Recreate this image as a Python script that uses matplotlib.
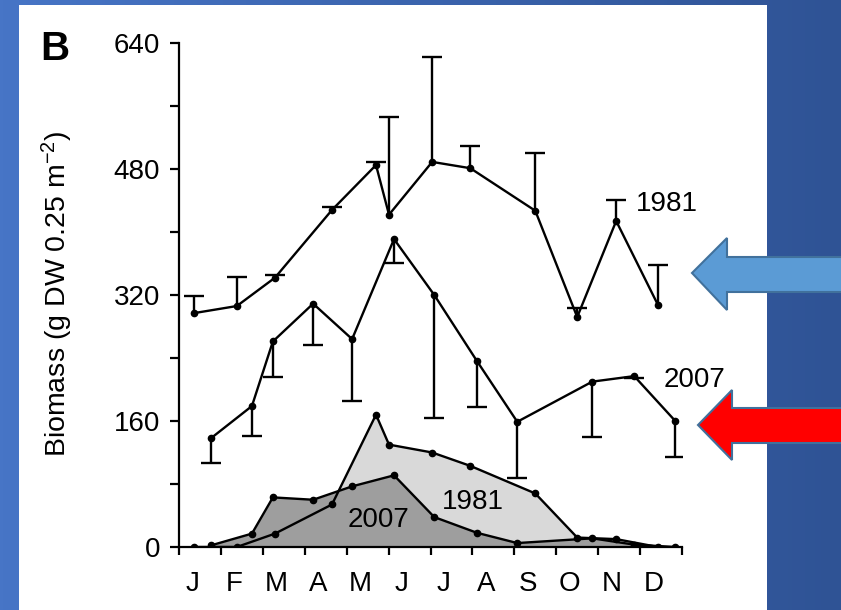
import numpy as np
import matplotlib
matplotlib.use("Agg")
from matplotlib import pyplot as plt
from matplotlib.patches import Rectangle, Polygon
from matplotlib.ticker import MultipleLocator, FixedLocator, NullFormatter

plt.rcParams['font.family'] = ['Liberation Sans', 'DejaVu Sans']
plt.rcParams['mathtext.fontset'] = 'custom'
plt.rcParams['mathtext.rm'] = 'Liberation Sans'
plt.rcParams['mathtext.it'] = 'Liberation Sans:italic'

# sampling dates in months since 1 January
months_1981 = [0.36, 1.38, 2.29, 3.65, 4.70, 5.01, 6.04, 6.95, 8.50, 9.50, 10.43, 11.43]
months_2007 = [0.76, 1.74, 2.24, 3.20, 4.13, 5.13, 6.09, 7.11, 8.07, 9.86, 10.86, 11.84]

# upper curves (with error bars)
biomass_1981 = [297, 306, 342, 428, 485, 422, 489, 481, 427, 292, 414, 307]
err_1981 = [22, 37, 4, 4, 4, 124, 133, 28, 73, 11, 27, 51]
biomass_2007 = [138, 179, 261, 309, 264, 391, 320, 236, 159, 210, 217, 160]
err_2007 = [31, 38, 45, 52, 79, 31, 156, 58, 71, 70, 3, 46]

# lower shaded curves
lower_1981 = [0, 0, 17, 54, 168, 130, 120, 103, 68, 12, 10, 0]
lower_2007 = [2, 17, 63, 60, 77, 91, 38, 18, 5, 11, 3, 0]

month_labels = ["J", "F", "M", "A", "M", "J", "J", "A", "S", "O", "N", "D"]

W, H = 841, 610
fig = plt.figure(figsize=(W / 100, H / 100), dpi=100)


def fx(x):
    return x / W


def fy(y):
    return 1 - y / H


# slide background: blue gradient
bg = fig.add_axes([0, 0, 1, 1], zorder=-10)
c0 = np.array([0x47, 0x75, 0xC6]) / 255
c1 = np.array([0x2F, 0x53, 0x95]) / 255
t = np.linspace(0, 1, 256)
grad = c0[None, :] * (1 - t[:, None]) + c1[None, :] * t[:, None]
bg.imshow(grad[None, :, :], aspect="auto", extent=[0, 1, 0, 1])
bg.set_axis_off()

# white figure panel
fig.patches.append(Rectangle((fx(19), 0), fx(767 - 19), fy(5), transform=fig.transFigure,
                             facecolor="white", edgecolor="none", zorder=-5))

ax = fig.add_axes([fx(179), fy(547), fx(682 - 179), (547 - 43) / H])
ax.set_facecolor("none")

ax.fill_between(months_1981, lower_1981, 0, color="#D9D9D9", lw=0, zorder=1)
ax.fill_between(months_2007, lower_2007, 0, color="#9E9E9E", lw=0, zorder=2)
ax.plot(months_1981, lower_1981, "k-o", lw=1.7, ms=4.5, zorder=3)
ax.plot(months_2007, lower_2007, "k-o", lw=1.7, ms=4.5, zorder=3)

zeros = [0] * len(err_1981)
_, caps81, _ = ax.errorbar(months_1981, biomass_1981, yerr=[zeros, err_1981], fmt="k-o",
                           lw=1.7, ms=4.5, elinewidth=1.7, capsize=7, capthick=1.7, zorder=4)
_, caps07, _ = ax.errorbar(months_2007, biomass_2007, yerr=[err_2007, zeros], fmt="k-o",
                           lw=1.7, ms=4.5, elinewidth=1.7, capsize=7, capthick=1.7, zorder=4)
# one-sided bars: keep only the cap at the far end
caps81[0].set_visible(False)
caps07[1].set_visible(False)

ax.set_xlim(0, 12)
ax.set_ylim(0, 640)
for side in ["top", "right"]:
    ax.spines[side].set_visible(False)
for side in ["left", "bottom"]:
    ax.spines[side].set_linewidth(1.6)

ax.yaxis.set_major_locator(MultipleLocator(160))
ax.yaxis.set_minor_locator(MultipleLocator(80))
ax.tick_params(axis="y", which="both", direction="out", length=6.5, width=1.6,
               labelsize=20, pad=7)
ax.xaxis.set_major_locator(FixedLocator(range(13)))
ax.xaxis.set_major_formatter(NullFormatter())
ax.xaxis.set_minor_locator(FixedLocator([i + 0.32 for i in range(12)]))
ax.set_xticklabels(month_labels, minor=True)
ax.tick_params(axis="x", which="major", direction="out", length=6, width=1.6)
ax.tick_params(axis="x", which="minor", length=0, labelsize=20, pad=17)

ax.text(11.65, 435, "1981", fontsize=20, ha="center", va="center")
ax.text(12.3, 212, "2007", fontsize=20, ha="center", va="center")
ax.text(7.0, 57, "1981", fontsize=20, ha="center", va="center")
ax.text(4.75, 34, "2007", fontsize=20, ha="center", va="center")

fig.text(fx(57), fy(294), "Biomass (g DW 0.25 m$^{-2}$)", rotation=90, fontsize=20.5,
         ha="center", va="center")
fig.text(fx(55), fy(49), "B", fontsize=29, fontweight="bold", ha="center", va="center")

# arrows from the slide
blue_arrow = [(692, 273), (727, 238), (727, 257), (845, 257), (845, 292), (727, 292), (727, 310)]
red_arrow = [(698, 425), (732, 390), (732, 408), (845, 408), (845, 443), (732, 443), (732, 460)]
for pts, col in [(blue_arrow, "#5B9BD5"), (red_arrow, "#FF0000")]:
    fig.patches.append(Polygon([(fx(x), fy(y)) for x, y in pts], closed=True,
                               transform=fig.transFigure, facecolor=col,
                               edgecolor="#41719C", lw=1.5, zorder=10))

fig.savefig("out.png", dpi=100)
